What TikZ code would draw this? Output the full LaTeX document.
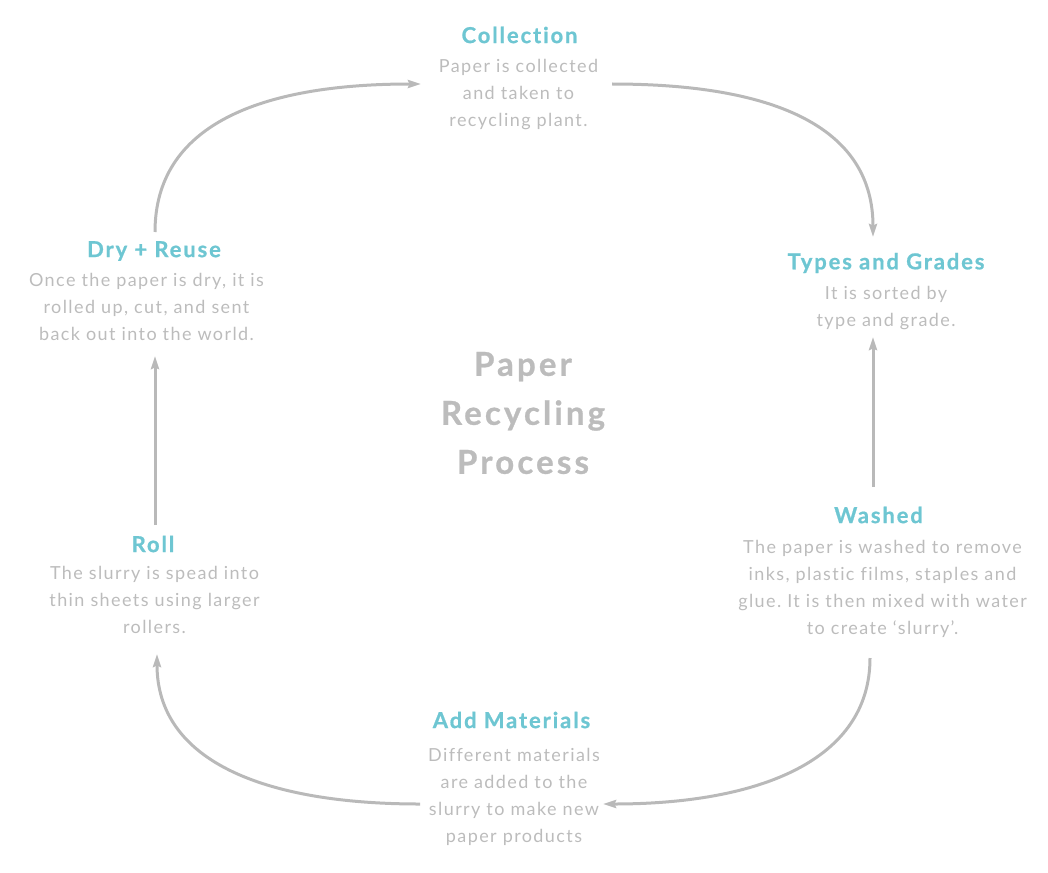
\documentclass[tikz,border=0pt]{standalone}
\usepackage{fontspec}
\setmainfont{Lato}
\newfontfamily\bodyfont[LetterSpace=7.8,Ligatures=NoCommon]{Lato}
\newfontfamily\titlefont[LetterSpace=8.5,Ligatures=NoCommon,BoldFeatures={FakeBold=0.8}]{Lato}
\newfontfamily\centerfont[LetterSpace=9.5,Ligatures=NoCommon,BoldFeatures={FakeBold=0.8}]{Lato}
\usetikzlibrary{arrows.meta}
\frenchspacing
\definecolor{teal}{RGB}{110,198,210}
\definecolor{bodygray}{RGB}{188,188,188}
\definecolor{linegray}{RGB}{185,185,185}
\definecolor{titlegray}{RGB}{188,188,188}
\begin{document}
\begin{tikzpicture}[x=1pt,y=-1pt,
  ttl/.style={text=teal,font=\titlefont\fontsize{22}{25}\selectfont\bfseries,inner sep=0pt},
  bdy/.style={text=bodygray,font=\bodyfont\fontsize{18}{27}\selectfont\frenchspacing,align=center,inner sep=0pt},
  ctr/.style={text=titlegray,font=\centerfont\fontsize{33}{49}\selectfont\bfseries,align=center,inner sep=0pt},
  conn/.style={draw=linegray,line width=3pt,-{Stealth[length=13pt,width=8pt,inset=1.5pt]}}]
\useasboundingbox (0,0) rectangle (1048,872);
% center
\node[ctr] (center) at (523,413) {Paper\\Recycling\\Process};
% steps
\node[ttl] (t1) at (519.5,35) {Collection};
\node[bdy] (b1) at (518.5,94.5) {Paper is collected\\and taken to\\recycling plant.};
\node[ttl] (t2) at (886,263) {Types and Grades};
\node[bdy] (b2) at (886,308.5) {It is sorted by\\type and grade.};
\node[ttl] (t3) at (878.5,515) {Washed};
\node[bdy] (b3) at (882.5,588.5) {The paper is washed to remove\\inks, plastic films, staples and\\glue. It is then mixed with water\\to create ‘slurry’.};
\node[ttl] (t4) at (511.5,720) {Add Materials};
\node[bdy] (b4) at (514,796.5) {Different materials\\are added to the\\slurry to make new\\paper products};
\node[ttl] (t5) at (153,544) {Roll};
\node[bdy] (b5) at (154.5,599.5) {The slurry is spead into\\thin sheets using larger\\rollers.};
\node[ttl] (t6) at (154,251) {Dry + Reuse};
\node[bdy] (b6) at (146.5,307) {Once the paper is dry, it is\\rolled up, cut, and sent\\back out into the world.};
% connector ends
\coordinate (a1s) at (155,232);
\coordinate (a1e) at (421,84);
\coordinate (a2s) at (612,84);
\coordinate (a2e) at (873,237);
\coordinate (a3s) at (873,487);
\coordinate (a3e) at (873,337);
\coordinate (a4s) at (870,658);
\coordinate (a4e) at (603,804);
\coordinate (a5s) at (420,804);
\coordinate (a5e) at (157,654);
\coordinate (a6s) at (155,525);
\coordinate (a6e) at (155,356);
\draw[conn] (a1s) .. controls (155,125) and (260,84) .. (a1e);
\draw[conn] (a2s) .. controls (780,84) and (873,130) .. (a2e);
\draw[conn] (a3s) -- (a3e);
\draw[conn] (a4s) .. controls (870,760) and (760,804) .. (a4e);
\draw[conn] (a5s) .. controls (262,804) and (157,760) .. (a5e);
\draw[conn] (a6s) -- (a6e);
\end{tikzpicture}
\end{document}
